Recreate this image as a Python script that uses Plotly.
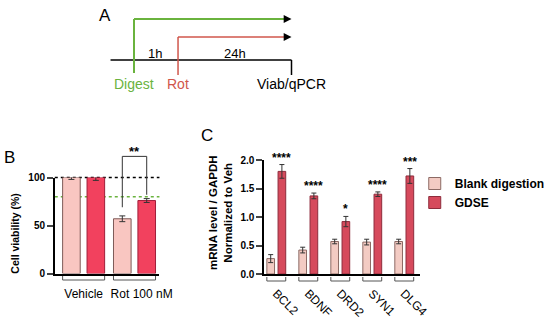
import plotly.graph_objects as go

W, H = 550, 320

# ---------------- data ----------------
b_categories = ["Vehicle", "Rot 100 nM"]
b_blank = [100, 57]
b_blank_err = [2, 3]
b_gdse = [100, 76]
b_gdse_err = [3, 2]
b_sig = "**"

c_genes = ["BCL2", "BDNF", "DRD2", "SYN1", "DLG4"]
c_blank = [0.27, 0.42, 0.57, 0.56, 0.57]
c_blank_err = [0.07, 0.05, 0.04, 0.05, 0.04]
c_gdse = [1.80, 1.37, 0.92, 1.40, 1.72]
c_gdse_err = [0.12, 0.05, 0.09, 0.04, 0.13]
c_sig = ["****", "****", "*", "****", "***"]
c_ticks = [0, 0.5, 1.0, 1.5, 2.0]
c_ticktext = ["0.0", "0.5", "1.0", "1.5", "2.0"]

series_names = ["Blank digestion", "GDSE"]

FONT = "Liberation Sans, Arial, sans-serif"


def px(x):
    return x / W


def py(y):
    return 1 - y / H


fig = go.Figure()

# ---------------- panel B bars ----------------
B_W = 0.346
B_OFF = [-0.413, 0.067]
fig.add_trace(go.Bar(
    x=b_categories, y=b_blank, name=series_names[0], showlegend=False,
    width=B_W, offset=B_OFF[0],
    marker=dict(color="#F9C6C1", line=dict(color="#7E5B58", width=1)),
    error_y=dict(type="data", array=b_blank_err, color="#333333", thickness=1, width=3),
    cliponaxis=False, xaxis="x", yaxis="y"))
fig.add_trace(go.Bar(
    x=b_categories, y=b_gdse, name=series_names[1], showlegend=False,
    width=B_W, offset=B_OFF[1],
    marker=dict(color="#F2415E", line=dict(color="#A01E3A", width=1)),
    error_y=dict(type="data", array=b_gdse_err, color="#333333", thickness=1, width=3),
    cliponaxis=False, xaxis="x", yaxis="y"))

# ---------------- panel C bars ----------------
C_W = 0.24
C_OFF = [-0.29, 0.06]
fig.add_trace(go.Bar(
    x=c_genes, y=c_blank, name=series_names[0],
    width=C_W, offset=C_OFF[0],
    marker=dict(color="#F3CBC3", line=dict(color="#8C6A64", width=1)),
    error_y=dict(type="data", array=c_blank_err, color="#333333", thickness=1, width=2.5),
    cliponaxis=False, xaxis="x2", yaxis="y2"))
fig.add_trace(go.Bar(
    x=c_genes, y=c_gdse, name=series_names[1],
    width=C_W, offset=C_OFF[1],
    marker=dict(color="#D64A5C", line=dict(color="#8E2C3C", width=1)),
    error_y=dict(type="data", array=c_gdse_err, color="#333333", thickness=1, width=2.5),
    cliponaxis=False, xaxis="x2", yaxis="y2"))

B_RANGE_Y = [0, 100]
C_RANGE_Y = [0, 2.0]

axis_common = dict(showgrid=False, zeroline=False, showline=True,
                   linecolor="black", linewidth=1.5)

fig.update_layout(
    width=W, height=H,
    margin=dict(l=0, r=0, t=0, b=0),
    paper_bgcolor="white", plot_bgcolor="rgba(0,0,0,0)",
    barmode="overlay",
    font=dict(family=FONT, color="black"),
    xaxis=dict(domain=[px(56), px(163)], range=[-0.567, 1.49], anchor="y",
               tickmode="array", tickvals=[0, 1.14], ticktext=b_categories,
               ticks="", tickangle=0, tickfont=dict(size=12), ticklabelstandoff=8,
               automargin=False, **axis_common),
    yaxis=dict(domain=[py(273.5), py(177.5)], range=B_RANGE_Y, anchor="x",
               tickvals=[0, 50, 100], ticks="outside", ticklen=6, tickwidth=1.5,
               automargin=False, tickfont=dict(size=10, weight="bold"), **axis_common),
    xaxis2=dict(domain=[px(270), px(429)], range=[-0.376, 4.486], anchor="y2",
                ticks="", tickangle=45, tickfont=dict(size=12), ticklabelstandoff=6,
                automargin=False, **axis_common),
    yaxis2=dict(domain=[py(274), py(160)], range=C_RANGE_Y, anchor="x2",
                tickmode="array", tickvals=c_ticks, ticktext=c_ticktext,
                ticks="outside", ticklen=6, tickwidth=1.5, showticklabels=True,
                ticklabeloverflow="allow", automargin=False,
                tickfont=dict(size=10, weight="bold"), **axis_common),
    legend=dict(x=px(424), y=py(169), xanchor="left", yanchor="top",
                font=dict(size=12, weight="bold"), bgcolor="rgba(0,0,0,0)",
                tracegroupgap=0),
)

shapes = []
annotations = []

# ---------------- panel A (timeline diagram) ----------------
GREEN = "#6AB33E"
RED = "#D0564B"


def seg(x0, y0, x1, y1, color, width):
    shapes.append(dict(type="line", xref="paper", yref="paper",
                       x0=px(x0), y0=py(y0), x1=px(x1), y1=py(y1),
                       line=dict(color=color, width=width)))


def arrowhead(xtip, y):
    shapes.append(dict(type="path", xref="paper", yref="paper",
                       path=f"M{px(xtip)},{py(y)} L{px(xtip-8)},{py(y-4)} L{px(xtip-8)},{py(y+4)} Z",
                       fillcolor="black", line=dict(color="black", width=0)))


seg(113, 60, 298, 60, "black", 1.5)
seg(298, 60, 298, 75, "black", 1.5)
seg(137, 19, 137, 73, GREEN, 2)
seg(137, 19, 291, 19, GREEN, 2)
arrowhead(298, 19)
seg(182, 37, 182, 75, RED, 1.5)
seg(182, 37, 291, 37, RED, 1.5)
arrowhead(298, 37)


def text(x, y, s, size=13, color="black", weight="normal", angle=0):
    annotations.append(dict(x=px(x), y=py(y), xref="paper", yref="paper", text=s,
                            showarrow=False, xanchor="center", yanchor="middle",
                            textangle=angle,
                            font=dict(size=size, color=color, weight=weight, family=FONT)))


text(107, 15, "A", size=17)
text(158, 53, "1h", size=13)
text(240, 53, "24h", size=13)
text(137, 84, "Digest", size=14, color=GREEN)
text(182, 84, "Rot", size=14, color=RED)
text(298, 84, "Viab/qPCR", size=14)

# panel letters
text(10, 157, "B", size=17)
text(212, 135, "C", size=17)

# axis titles
text(15, 233, "Cell viability (%)", size=10.5, weight="bold", angle=-90)
text(225, 213, "mRNA level / GAPDH<br>Normalized to Veh", size=11.5, weight="bold", angle=-90)

# ---------------- panel B decorations ----------------
shapes.append(dict(type="line", xref="x domain", yref="y domain", x0=0, x1=1,
                   y0=100 / B_RANGE_Y[1], y1=100 / B_RANGE_Y[1], layer="below",
                   line=dict(color="black", width=1.5, dash="dot")))
shapes.append(dict(type="line", xref="x domain", yref="y domain", x0=0, x1=1,
                   y0=80 / B_RANGE_Y[1], y1=80 / B_RANGE_Y[1], layer="below",
                   line=dict(color="#6AB33E", width=1.5, dash="dot")))

for i in range(len(b_categories)):
    l = i + B_OFF[0]
    r = i + B_OFF[1] + B_W
    shapes.append(dict(type="path", xref="x", yref="paper",
                       path=f"M{l},{py(276)} L{l},{py(280)} L{r},{py(280)} L{r},{py(276)}",
                       line=dict(color="#555555", width=1)))

xl = 1 + B_OFF[0] + B_W / 2
xr = 1 + B_OFF[1] + B_W / 2
top = 122 / B_RANGE_Y[1]
shapes.append(dict(type="path", xref="x", yref="y domain",
                   path=f"M{xl},{0.69} L{xl},{top} L{xr},{top} L{xr},{0.82}",
                   line=dict(color="#333333", width=1)))
annotations.append(dict(x=1, y=top, xref="x", yref="y domain", text=b_sig, showarrow=False,
                        xanchor="center", yanchor="bottom", yshift=-5,
                        font=dict(size=13, weight="bold", family=FONT)))

# ---------------- panel C decorations ----------------
for i in range(len(c_genes)):
    l = i + C_OFF[0]
    r = i + C_OFF[1] + C_W
    shapes.append(dict(type="path", xref="x2", yref="paper",
                       path=f"M{l},{py(277)} L{l},{py(281)} L{r},{py(281)} L{r},{py(277)}",
                       line=dict(color="#555555", width=1)))
    annotations.append(dict(x=i + C_OFF[1] + C_W / 2, y=c_gdse[i] + c_gdse_err[i],
                            xref="x2", yref="y2", text=c_sig[i], showarrow=False,
                            xanchor="center", yanchor="bottom", yshift=-2,
                            font=dict(size=12, weight="bold", family=FONT)))

fig.update_layout(shapes=shapes, annotations=annotations)

fig.write_html("out.html", config={"displayModeBar": False},
               post_script="document.body.style.margin='0';document.body.style.overflow='hidden';")
